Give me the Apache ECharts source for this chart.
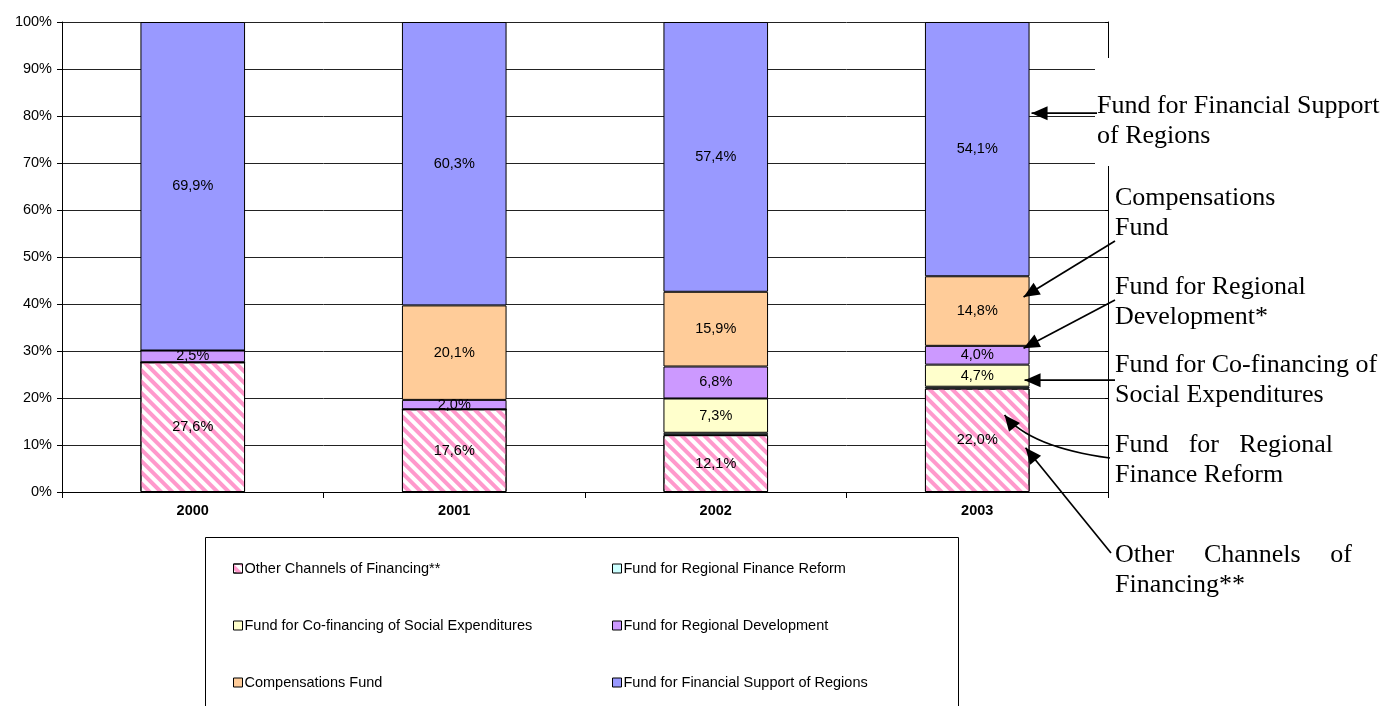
<!DOCTYPE html>
<html>
<head>
<meta charset="utf-8">
<script src="https://cdn.jsdelivr.net/npm/echarts@6/dist/echarts.min.js"></script>
<style>
  html, body { margin: 0; padding: 0; background: #fff; }
  #chart { width: 1393px; height: 706px; }
</style>
</head>
<body>
<div id="chart"></div>
<script>
// data (percent of total transfers)
const years = ['2000', '2001', '2002', '2003'];
const otherChannels = [27.6, 17.6, 12.1, 22.0];
const financeReform = [0, 0, 0.5, 0.4];
const coFinancing = [0, 0, 7.3, 4.7];
const regionalDevelopment = [2.5, 2.0, 6.8, 4.0];
const compensations = [0, 20.1, 15.9, 14.8];
const financialSupport = [69.9, 60.3, 57.4, 54.1];

const seriesNames = [
  'Other Channels of Financing**',
  'Fund for Regional Finance Reform',
  'Fund for Co-financing of Social Expenditures',
  'Fund for Regional Development',
  'Compensations Fund',
  'Fund for Financial Support of Regions'
];
const seriesData = [otherChannels, financeReform, coFinancing, regionalDevelopment, compensations, financialSupport];
const colors = ['#ffffff', '#ccffff', '#ffffcc', '#cc99ff', '#ffcc99', '#9999ff'];

// callouts on the right, pointing at the 2003 bar
const notes = [
  { lines: ['Fund for Financial Support', 'of Regions'], x: 1097, y: 106, from: [1097, null], tip: 80.6, dx: 2 },
  { lines: ['Compensations', 'Fund'], x: 1115, y: 198, from: [1115, 241], tip: 41.5, dx: -6 },
  { lines: ['Fund for Regional', 'Development*'], x: 1115, y: 287, from: [1115, 300], tip: 30.6, dx: -6 },
  { lines: ['Fund for Co-financing of', 'Social Expenditures'], x: 1115, y: 365, from: [1115, null], tip: 23.8, dx: -5 },
  { lines: ['Fund for Regional', 'Finance Reform'], x: 1115, y: 445, from: [1110, 458], tip: 16.4, dx: -25, curve: [1030, 447], justify: 218 },
  { lines: ['Other Channels of', 'Financing**'], x: 1115, y: 555, from: [1111, 553], tip: 9.4, dx: -4, justify: 237 }
];

const sans = '"Liberation Sans", Arial, sans-serif';
const serif = '"Liberation Serif", "Times New Roman", serif';
const fs = 14.5;

const chart = echarts.init(document.getElementById('chart'));

const series = seriesNames.map(function (name, i) {
  const s = {
    name: name,
    type: 'bar',
    stack: 'total',
    barWidth: '40%',
    data: seriesData[i],
    itemStyle: { color: colors[i], borderColor: '#000', borderWidth: 1 },
    label: {
      show: i !== 1,
      position: 'inside',
      color: '#000',
      fontSize: fs,
      fontFamily: sans,
      formatter: function (p) {
        return p.value > 0 ? p.value.toFixed(1).replace('.', ',') + '%' : '';
      }
    }
  };
  if (i === 0) {
    s.itemStyle.decal = {
      symbol: 'rect',
      symbolSize: 1,
      color: '#ff99cc',
      dashArrayX: [1, 0],
      dashArrayY: [4, 4],
      rotation: Math.PI / 4
    };
  }
  return s;
});

function legendCol(left, names) {
  return {
    orient: 'vertical',
    left: left,
    top: 556,
    itemGap: 42,
    itemWidth: 9,
    itemHeight: 9,
    icon: 'rect',
    itemStyle: { borderColor: '#000', borderWidth: 1 },
    textStyle: { fontSize: fs, color: '#000', fontFamily: sans, padding: [0, 0, 0, -3] },
    data: names
  };
}

const option = {
  animation: false,
  backgroundColor: '#fff',
  textStyle: { fontFamily: sans },
  grid: { left: 62, right: 285, top: 22, bottom: 214 },
  legend: [
    legendCol(228, [seriesNames[0], seriesNames[2], seriesNames[4]]),
    legendCol(607, [seriesNames[1], seriesNames[3], seriesNames[5]])
  ],
  xAxis: {
    type: 'category',
    data: years,
    axisLine: { lineStyle: { color: '#000', width: 1 } },
    axisTick: { show: true, length: 6, lineStyle: { color: '#000' } },
    axisLabel: { color: '#000', fontSize: fs, fontWeight: 'bold', fontFamily: sans, margin: 11 }
  },
  yAxis: [
    {
      type: 'value',
      min: 0,
      max: 100,
      interval: 10,
      axisLine: { show: true, lineStyle: { color: '#000', width: 1 } },
      axisTick: { show: true, length: 5, lineStyle: { color: '#000' } },
      axisLabel: { color: '#000', fontSize: fs, fontFamily: sans, margin: 10, formatter: '{value}%' },
      splitLine: { show: true, lineStyle: { color: '#222', width: 1 } }
    },
    {
      type: 'value',
      position: 'right',
      min: 0,
      max: 100,
      interval: 10,
      axisLine: { show: true, lineStyle: { color: '#000', width: 1 } },
      axisTick: { show: true, inside: true, length: 3, lineStyle: { color: '#000' } },
      axisLabel: { show: false },
      splitLine: { show: false }
    }
  ],
  series: series
};

chart.setOption(option);

// callout graphics, anchored on the 2003 bar through the axes
const measure = document.createElement('canvas').getContext('2d');
const noteFont = 26;
const lineH = 30;

function px(year, v) {
  return chart.convertToPixel({ xAxisIndex: 0, yAxisIndex: 0 }, [year, v]);
}

function arrowHead(tip, from) {
  const ang = Math.atan2(tip[1] - from[1], tip[0] - from[0]);
  const len = 16, w = 7;
  const bx = tip[0] - len * Math.cos(ang), by = tip[1] - len * Math.sin(ang);
  return {
    type: 'polygon',
    z: 110,
    shape: {
      points: [
        tip,
        [bx + w * Math.sin(ang), by - w * Math.cos(ang)],
        [bx - w * Math.sin(ang), by + w * Math.cos(ang)]
      ]
    },
    style: { fill: '#000' }
  };
}

const half = (px('2003', 0)[0] - px('2002', 0)[0]) * 0.2;
const elements = [];

// white text box behind the top callout
elements.push({
  type: 'rect', z: 100,
  shape: { x: 1095, y: 58, width: 298, height: 108 },
  style: { fill: '#fff' }
});

notes.forEach(function (n) {
  const p = px('2003', n.tip);
  const tip = [p[0] + half + n.dx, p[1]];
  const from = [n.from[0], n.from[1] == null ? tip[1] : n.from[1]];
  if (n.curve) {
    elements.push({
      type: 'bezierCurve', z: 110,
      shape: { x1: from[0], y1: from[1], x2: tip[0], y2: tip[1], cpx1: n.curve[0], cpy1: n.curve[1] },
      style: { stroke: '#000', lineWidth: 1.7, fill: null }
    });
    elements.push(arrowHead(tip, n.curve));
  } else {
    elements.push({
      type: 'line', z: 110,
      shape: { x1: from[0], y1: from[1], x2: tip[0], y2: tip[1] },
      style: { stroke: '#000', lineWidth: 1.7 }
    });
    elements.push(arrowHead(tip, from));
  }
  n.lines.forEach(function (line, k) {
    const y = n.y + k * lineH;
    if (n.justify && k === 0) {
      // justified first line: spread the words across the box width
      measure.font = noteFont + 'px ' + serif;
      const words = line.split(' ');
      const total = words.reduce(function (a, w) { return a + measure.measureText(w).width; }, 0);
      const gap = (n.justify - total) / (words.length - 1);
      let x = n.x;
      words.forEach(function (w) {
        elements.push({
          type: 'text', z: 120,
          style: { text: w, x: x, y: y, fontSize: noteFont, fontFamily: serif, fill: '#000', align: 'left', verticalAlign: 'middle' }
        });
        x += measure.measureText(w).width + gap;
      });
    } else {
      elements.push({
        type: 'text', z: 120,
        style: { text: line, x: n.x, y: y, fontSize: noteFont, fontFamily: serif, fill: '#000', align: 'left', verticalAlign: 'middle' }
      });
    }
  });
});

// legend frame
elements.push({
  type: 'rect', z: 1,
  shape: { x: 205.5, y: 537.5, width: 753, height: 200 },
  style: { fill: null, stroke: '#000', lineWidth: 1 }
});

chart.setOption({ graphic: elements });
</script>
</body>
</html>
